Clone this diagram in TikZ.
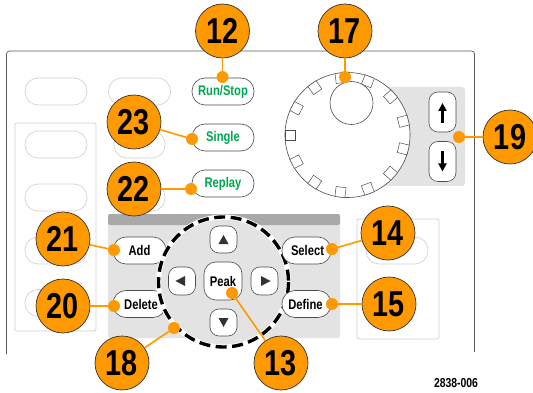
\documentclass[tikz,border=0pt]{standalone}
\usepackage{fontspec}
\setmainfont{Liberation Sans}
\newfontfamily\numfont[FakeStretch=0.8]{Liberation Sans}
\usetikzlibrary{positioning,arrows.meta,shapes.misc}
\definecolor{callout}{HTML}{FF9900}
\definecolor{panelgray}{HTML}{E3E3E3}
\definecolor{headgray}{HTML}{A9A9A9}
\definecolor{ghost}{HTML}{CFCFCF}
\definecolor{litgreen}{HTML}{00A651}

\begin{document}
\begin{tikzpicture}[
    x=1pt,y=-1pt,
    btn/.style={rectangle,rounded corners=13pt,draw=black!70,fill=white,line width=0.6pt,minimum width=#1,minimum height=27pt,inner sep=0pt,font=\numfont\bfseries\fontsize{14}{14}\selectfont},
    btn/.default=62pt,
    idlebtn/.style={btn=#1,draw=ghost},
    idlebtn/.default=62pt,
    litbtn/.style={btn,text=litgreen},
    navbtn/.style={rectangle,rounded corners=9pt,draw=black!70,fill=white,line width=0.6pt,minimum width=27pt,minimum height=27pt,inner sep=0pt},
    stepbtn/.style={rectangle,rounded corners=9pt,draw=black!70,fill=white,line width=0.6pt,minimum width=27pt,minimum height=40pt},
    notch/.style={rectangle,draw=black!70,fill=white,line width=0.5pt,minimum width=10pt,minimum height=10pt,inner sep=0pt},
    bubble/.style={circle,draw=black!80,fill=callout,line width=0.7pt,minimum size=54pt,inner sep=0pt,font=\numfont\bfseries\fontsize{36}{36}\selectfont},
    dot/.style={circle,fill=callout,minimum size=12pt,inner sep=0pt},
    leader/.style={draw=callout,line width=1.6pt},
    stepdir/.style={-{Triangle[length=8pt,width=8pt]},line width=2.4pt,black}
  ]
    \useasboundingbox (0,0) rectangle (533,393);

    % panel outline
    \draw[black!65,line width=0.7pt,rounded corners=3pt] (6.5,354) -- (6.5,51) -- (474.5,51) -- (474.5,352);
    \draw[ghost,line width=0.7pt,rounded corners=2pt] (15,123) rectangle (96,331);
    \draw[ghost,line width=0.7pt,rounded corners=2pt] (357,219) rectangle (439,339);

    % idle buttons
    \node[idlebtn] (top1) at (56,91.5) {};
    \node[idlebtn] (top2) at (139.5,91.5) {};
    \node[idlebtn] (side1) at (56,144.5) {};
    \node[idlebtn] (side2) at (56,197.5) {};
    \node[idlebtn] (side3) at (56,250.5) {};
    \node[idlebtn] (side4) at (56,303) {};
    \node[idlebtn=51pt] (mid1) at (139.5,144.5) {};
    \node[idlebtn=51pt] (mid2) at (139.5,197.5) {};
    \node[idlebtn] (right1) at (397,250.5) {};

    % lit buttons
    \node[litbtn] (runstop) at (223,91.5) {Run/Stop};
    \node[litbtn] (single) at (223,137.5) {Single};
    \node[litbtn] (replay) at (223,183.5) {Replay};

    % menu panel
    \fill[panelgray,rounded corners=2pt] (108,214) rectangle (340,338);
    \fill[headgray,rounded corners=2pt] (108,214) rectangle (340,225);
    \node[btn=53pt] (add) at (139.5,250.5) {Add};
    \node[btn=53pt] (delete) at (139.5,304) {\hspace*{3pt}Delete};
    \draw[white,line width=5pt,fill=panelgray] (223.5,282) circle (65);
    \draw[black,line width=3.4pt,dash pattern=on 11pt off 5.5pt] (223.5,282) circle (65);
    \node[btn=49pt] (select) at (306.5,250.5) {\hspace*{2pt}Select};
    \node[btn=49pt] (define) at (306.5,304) {\hspace*{2pt}Define\hspace*{4pt}};

    % arrow pad
    \node[navbtn] (navup) at (223.5,239.5) {};
    \node[navbtn] (navdown) at (223.5,322.5) {};
    \node[navbtn,minimum height=28pt] (navleft) at (182,281) {};
    \node[navbtn,minimum height=28pt] (navright) at (264.5,281) {};
    \node[navbtn,rounded corners=12pt,minimum width=38pt,minimum height=38pt,font=\numfont\bfseries\fontsize{14}{14}\selectfont] (peak) at (223,281) {Peak};
    \fill[black!80] (218.5,244) -- (228.5,244) -- (223.5,235) -- cycle;
    \fill[black!80] (218.5,318) -- (228.5,318) -- (223.5,327) -- cycle;
    \fill[black!80] (185,276) -- (185,286) -- (175.5,281) -- cycle;
    \fill[black!80] (261,276) -- (261,286) -- (270.5,281) -- cycle;

    % dial and step buttons
    \fill[panelgray,rounded corners=3pt] (380,87) rectangle (465,186);
    \draw[black!70,fill=white,line width=0.6pt] (347.5,135) circle (62.5);
    \foreach \ang in {0,1,...,12}
      \node[notch,rotate=180-\ang*27.7] at ({347.5+57.5*cos(180-\ang*27.7)},{135-57.5*sin(180-\ang*27.7)}) {};
    \node[circle,draw=black!70,fill=white,line width=0.6pt,minimum size=43pt,inner sep=0pt] (knob) at (351.5,103) {};
    \node[stepbtn] (stepup) at (442.5,112) {};
    \node[stepbtn] (stepdown) at (442.5,161.5) {};
    \draw[stepdir] (stepup.center) ++(0,11) -- ++(0,-20);
    \draw[stepdir] (stepdown.center) ++(0,-10) -- ++(0,20);

    % callouts
    \node[bubble] (c12) at (222.5,31) {12};
    \node[bubble] (c17) at (345,31) {17};
    \node[bubble] (c19) at (510,137) {19};
    \node[bubble] (c23) at (134,122) {23};
    \node[bubble] (c22) at (134,189) {22};
    \node[bubble] (c21) at (63,239) {21};
    \node[bubble] (c20) at (63,306) {20};
    \node[bubble] (c18) at (122,363) {18};
    \node[bubble] (c13) at (281,363) {13};
    \node[bubble] (c14) at (388,233) {14};
    \node[bubble] (c15) at (389,304) {15};

    \node[dot] (d12) at (222.5,77) {};
    \node[dot] (d17) at (345,77) {};
    \node[dot] (d19) at (459,137) {};
    \node[dot] (d23) at (192,139) {};
    \node[dot] (d22) at (191,189) {};
    \node[dot] (d21) at (114,250) {};
    \node[dot] (d20) at (114,306) {};
    \node[dot] (d18) at (174,328) {};
    \node[dot] (d13) at (232,293) {};
    \node[dot] (d14) at (332,249) {};
    \node[dot] (d15) at (332,304) {};

    \draw[leader] (c12) -- (d12);
    \draw[leader] (c17) -- (d17);
    \draw[leader] (c19) -- (d19);
    \draw[leader] (c23) -- (d23);
    \draw[leader] (c22) -- (d22);
    \draw[leader] (c21) -- (d21);
    \draw[leader] (c20) -- (d20);
    \draw[leader] (c18) -- (d18);
    \draw[leader] (c13) -- (d13);
    \draw[leader] (c14) -- (d14);
    \draw[leader] (c15) -- (d15);

    \node[font=\numfont\bfseries\fontsize{13}{13}\selectfont,inner sep=0pt] (partno) at (456,383) {2838-006};
  \end{tikzpicture}
\end{document}
